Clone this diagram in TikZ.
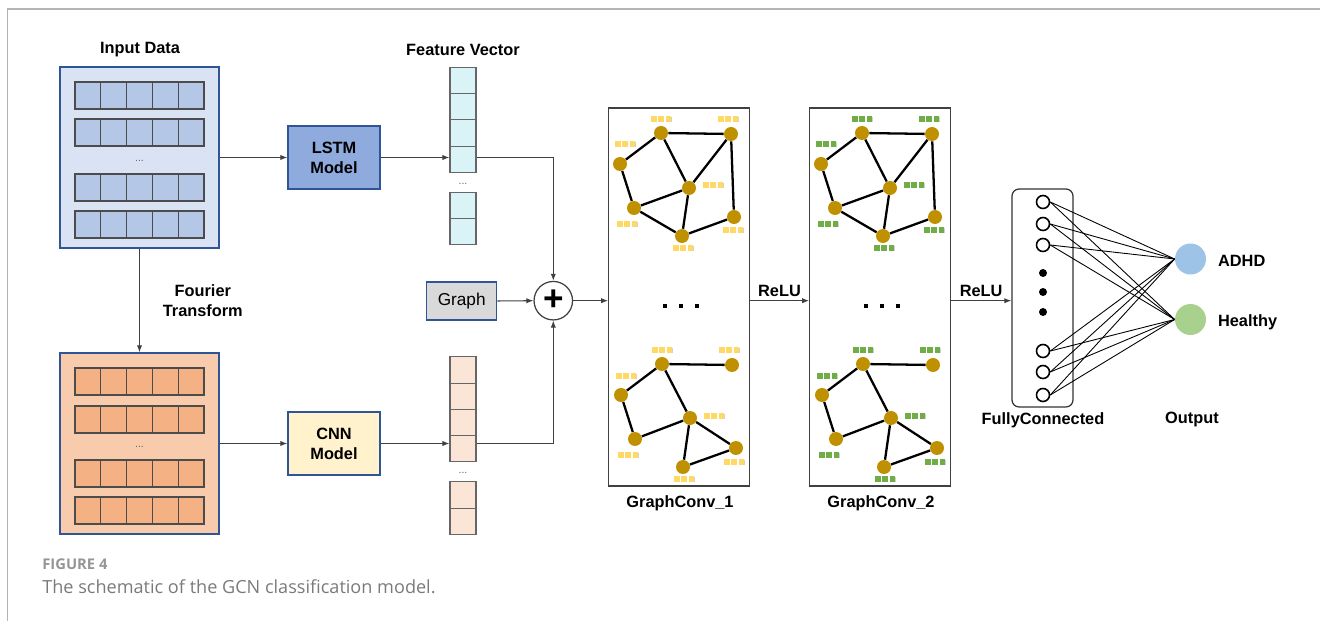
\documentclass[tikz,border=0pt]{standalone}
\usepackage{fontspec}
\setmainfont{Liberation Sans}
\newfontfamily\capfont{Open Sans}
\usetikzlibrary{arrows.meta, positioning}
\definecolor{InBlue}{HTML}{DAE3F3}
\definecolor{CellBlue}{HTML}{B4C7E7}
\definecolor{EdgeBlue}{HTML}{2F5597}
\definecolor{LstmBlue}{HTML}{8FAADC}
\definecolor{FtPeach}{HTML}{F8CBAD}
\definecolor{CellPeach}{HTML}{F4B183}
\definecolor{CnnCream}{HTML}{FFF2CC}
\definecolor{VecCyan}{HTML}{DAF3F7}
\definecolor{VecPeach}{HTML}{FBE5D6}
\definecolor{GraphGray}{HTML}{D9D9D9}
\definecolor{NodeGold}{HTML}{BF9000}
\definecolor{FeatYellow}{HTML}{FFD966}
\definecolor{FeatGreen}{HTML}{70AD47}
\definecolor{OutBlue}{HTML}{9DC3E6}
\definecolor{OutGreen}{HTML}{A9D18E}
\definecolor{LineGray}{HTML}{404040}
\definecolor{FrameGray}{HTML}{B4B4B4}
\definecolor{CapGray}{HTML}{7A7A7A}

% three small feature squares centred at (#1,#2)
\newcommand{\featrow}[3]{%
  \foreach \k in {-7.3,0,7.3}{
    \fill[black!18] (#1+\k-2.3,#2-2.3) rectangle ++(5.6,5.6);
    \fill[#3] (#1+\k-2.8,#2-2.8) rectangle ++(5.6,5.6);}}

\begin{document}
\begin{tikzpicture}[x=0.02cm, y=-0.02cm,
  lbl/.style={font=\fontsize{9.3}{11.3}\selectfont\bfseries, align=center, inner sep=1pt},
  arr/.style={-{Latex[length=4pt,width=3pt]}, draw=LineGray, line width=0.6pt},
  databox/.style={draw=EdgeBlue, line width=0.7pt, minimum width=3.18cm, minimum height=3.62cm, inner sep=0pt},
  datacell/.style={draw=black!70, line width=0.6pt},
  modelbox/.style={draw=EdgeBlue, line width=0.7pt, minimum width=1.84cm, minimum height=1.26cm, lbl},
  vcell/.style={draw=black!60, line width=0.6pt, minimum width=0.52cm, minimum height=0.525cm, inner sep=0pt},
  smalldots/.style={font=\fontsize{6}{6}\selectfont, text=black!60, inner sep=0pt},
  gcbox/.style={draw=black!75, line width=0.7pt, minimum width=2.81cm, minimum height=7.56cm, inner sep=0pt},
  gnode/.style={circle, fill=NodeGold, minimum size=0.28cm, inner sep=0pt},
  gedge/.style={line width=1.3pt, black},
  unit/.style={circle, draw=black, line width=0.9pt, fill=white, minimum size=0.26cm, inner sep=0pt},
  outnode/.style={circle, minimum size=0.62cm, inner sep=0pt}]
  \useasboundingbox (0,0) rectangle (1320,621);
  % page frame
  \draw[FrameGray, line width=0.8pt] (7.3,621) -- (7.3,9) -- (1320,9);

  % input data and its Fourier transform
  \node[databox, fill=InBlue] (input) at (139.5,157.5) {};
  \node[databox, fill=FtPeach] (ft) at (139.5,443.5) {};
  \foreach \r in {82,119,174,211}
    \foreach \c in {0,...,4}
      \draw[datacell, fill=CellBlue] (75+\c*25.8,\r) rectangle ++(25.8,27);
  \foreach \r in {368,406,460,497}
    \foreach \c in {0,...,4}
      \draw[datacell, fill=CellPeach] (75+\c*25.8,\r) rectangle ++(25.8,27);
  \node[smalldots] (inDots) at (139.5,161) {...};
  \node[smalldots] (ftDots) at (139.5,447) {...};
  \node[lbl] (inLbl) at (140,50) {Input Data};
  \draw[arr] (input.south) -- node[lbl, right=12pt] (ftLbl) {Fourier\\Transform} (ft.north);

  % models
  \node[modelbox, fill=LstmBlue] (lstm) at (334,157.5) {LSTM\\Model};
  \node[modelbox, fill=CnnCream] (cnn) at (334,443.5) {CNN\\Model};
  \draw[arr] (input.east) -- (lstm.west);
  \draw[arr] (ft.east) -- (cnn.west);

  % feature vectors
  \node[lbl] (fvLbl) at (463,50) {Feature Vector};
  \foreach \i/\y in {1/80.3,2/106.7,3/133,4/159.3,5/205.5,6/231.7}
    \node[vcell, fill=VecCyan] (fa\i) at (463,\y) {};
  \foreach \i/\y in {1/370,2/396.3,3/422.5,4/448.8,5/495,6/521.2}
    \node[vcell, fill=VecPeach] (fb\i) at (463,\y) {};
  \node[smalldots] (faDots) at (463,184) {...};
  \node[smalldots] (fbDots) at (463,473) {...};

  % merge with the graph
  \node[draw=EdgeBlue, line width=0.7pt, fill=GraphGray, minimum width=1.4cm, minimum height=0.76cm,
        font=\fontsize{9.8}{11}\selectfont] (graph) at (461.7,301) {Graph};
  \node[circle, draw=LineGray, line width=0.7pt, fill=white, minimum size=0.77cm, inner sep=0pt,
        font=\fontsize{20}{20}\selectfont\bfseries] (plus) at (553.3,300.7) {+};
  \draw[arr] (lstm.east) -- (lstm.east -| fa4.west);
  \draw[arr] (cnn.east) -- (cnn.east -| fb4.west);
  \draw[arr] (lstm.east -| fa4.east) -| (plus.north);
  \draw[arr] (cnn.east -| fb4.east) -| (plus.south);
  \draw[arr] (graph.east) -- (plus.west);

  % graph convolution layers
  \node[gcbox] (gc1) at (679,297) {};
  \node[gcbox] (gc2) at (880,297) {};
  \node[lbl] (gc1Lbl) at (680,503) {GraphConv\_1};
  \node[lbl] (gc2Lbl) at (881,503) {GraphConv\_2};
  \foreach \gx/\fc/\gn in {0/FeatYellow/a, 201/FeatGreen/b}{
    \begin{scope}[shift={(\gx,0)}]
      \foreach \n/\px/\py in {A/661/133, B/731/134, C/620/164, D/689/188, E/634/208, F/734/217, G/682/236}
        \node[gnode] (\gn-t\n) at (\px,\py) {};
      \foreach \u/\v in {A/B, A/C, A/D, B/D, B/F, C/E, E/D, D/G, E/G, G/F}
        \draw[gedge] (\gn-t\u) -- (\gn-t\v);
      \foreach \n/\px/\py in {A/662/364, B/732/365, C/621/395, D/690/418, E/635/439, F/736/448, G/683/467}
        \node[gnode] (\gn-b\n) at (\px,\py) {};
      \foreach \u/\v in {A/B, A/C, A/D, C/E, E/D, D/F, D/G, G/F}
        \draw[gedge] (\gn-b\u) -- (\gn-b\v);
      \foreach \fx/\fy in {661/119, 728/119, 625/144, 713/185, 627/224, 733/230, 683/248,
                           662/350, 729/350, 626/376, 714/416, 628/455, 734/462, 684/479}
        \featrow{\fx}{\fy}{\fc}
      \foreach \dx in {665,681,697}
        \fill (\dx-2.3,306-2.3) rectangle ++(4.6,4.6);
    \end{scope}
  }
  \draw[arr] (plus.east) -- (plus -| gc1.west);
  \draw[arr] (plus -| gc1.east) -- node[lbl, above=1pt] (relu1) {ReLU} (plus -| gc2.west);

  % fully connected layer and output
  \node[draw=black!80, line width=0.7pt, rounded corners=4pt, minimum width=1.22cm,
        minimum height=4.36cm] (fc) at (1042.5,298) {};
  \draw[arr] (plus -| gc2.east) -- node[lbl, above=1pt] (relu2) {ReLU} (plus -| fc.west);
  \foreach \i/\y in {1/202,2/224,3/245,4/351,5/372,6/395}
    \node[unit] (u\i) at (1043,\y) {};
  \foreach \y in {273,292,312}
    \fill (1043,\y) circle (4);
  \node[outnode, fill=OutBlue] (adhd) at (1190.5,259) {};
  \node[outnode, fill=OutGreen] (hlth) at (1190.5,319.5) {};
  \foreach \i in {1,...,6}
    \foreach \o in {adhd,hlth}
      \draw[black, line width=0.5pt] (u\i.east) -- (\o.west);
  \node[lbl, anchor=west] (adhdLbl) at (1216,261) {ADHD};
  \node[lbl, anchor=west] (hlthLbl) at (1216,322) {Healthy};
  \node[lbl] (fcLbl) at (1043,420) {FullyConnected};
  \node[lbl] (outLbl) at (1192,419) {Output};

  % caption
  \node[anchor=base west, inner sep=0pt, text=CapGray!80, font=\capfont\fontsize{8.4}{10}\selectfont\bfseries]
    (figNo) at (42,570) {FIGURE 4};
  \node[anchor=base west, inner sep=0pt, text=CapGray, font=\capfont\fontsize{10.3}{12}\selectfont]
    (caption) at (42,594) {The schematic of the GCN classification model.};
\end{tikzpicture}
\end{document}
